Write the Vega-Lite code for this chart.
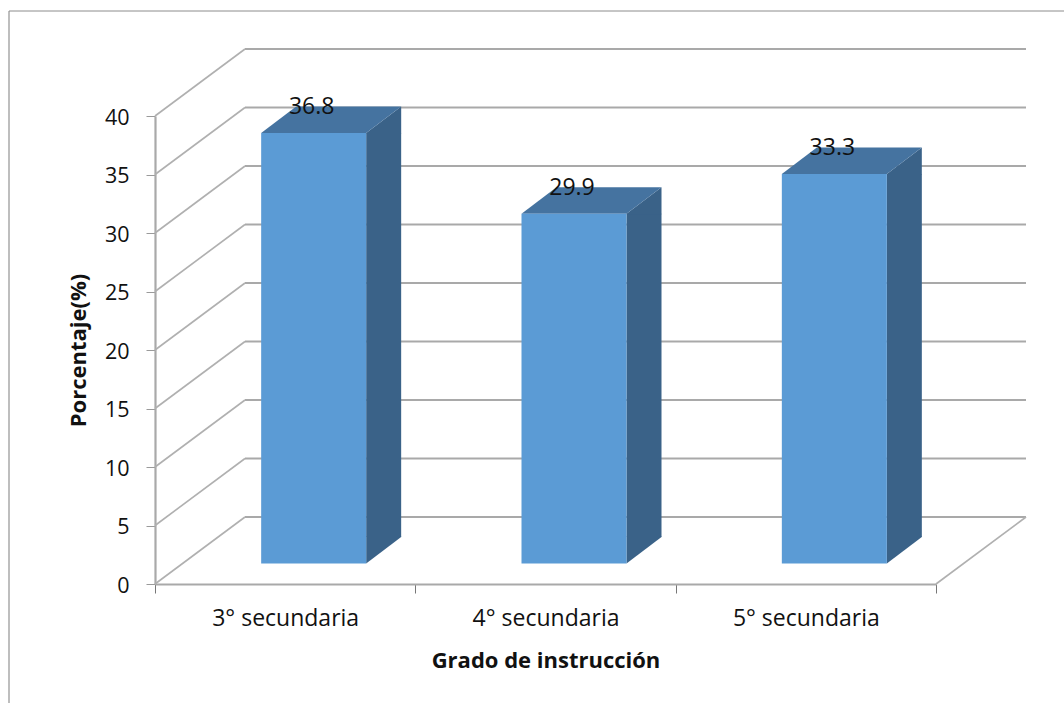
{
"$schema":"https://vega.github.io/schema/vega-lite/v6.json",
"width":781,"height":468,
"autosize":"none",
"padding":{"left":155,"top":116,"right":128,"bottom":119},
"background":"white",
"config":{"view":{"stroke":null},"font":"Open Sans"},
"datasets":{
"barras":[{"grado":"3° secundaria","porcentaje":36.8},{"grado":"4° secundaria","porcentaje":29.9},{"grado":"5° secundaria","porcentaje":33.3}],
"niveles":[{"v":0},{"v":5},{"v":10},{"v":15},{"v":20},{"v":25},{"v":30},{"v":35},{"v":40}],
"uno":[{"k":1}]
},
"layer":[
{"data":{"name":"uno"},"mark":{"type":"rule","stroke":"#a8a8a8","strokeWidth":1.5},"encoding":{"x":{"value":-146},"y":{"value":-105},"y2":{"value":600}}},
{"data":{"name":"uno"},"mark":{"type":"rule","stroke":"#8c8c8c","strokeWidth":1},"encoding":{"y":{"value":-105},"x":{"value":-146},"x2":{"value":920}}},
{"data":{"name":"niveles"},"mark":{"type":"rule","stroke":"#a9a9a9","strokeWidth":2.2,"xOffset":90,"x2Offset":90,"yOffset":-67},
"encoding":{"y":{"field":"v","type":"quantitative","scale":{"domain":[0,40]},
"axis":{"values":[0,5,10,15,20,25,30,35,40],"title":"Porcentaje(%)","grid":false,"domainColor":"#a9a9a9","domainWidth":2.2,"tickColor":"#9a9a9a","tickSize":9,"tickWidth":1,"labelFontSize":21.5,"labelColor":"#111111","labelPadding":17,"labelOffset":2,"titleFontSize":22,"titleFontWeight":"bold","titleColor":"#111111","titlePadding":14}},
"x":{"value":0},"x2":{"value":"width"}}},
{"data":{"name":"niveles"},"mark":{"type":"rule","stroke":"#b0b0b0","strokeWidth":1.6,"x2Offset":90,"y2Offset":-67},
"encoding":{"y":{"field":"v","type":"quantitative"},"y2":{"field":"v"},"x":{"value":0},"x2":{"value":0}}},
{"data":{"name":"uno"},"mark":{"type":"rule","stroke":"#b0b0b0","strokeWidth":1.6,"x2Offset":90,"y2Offset":-67},
"encoding":{"y":{"datum":0,"type":"quantitative"},"y2":{"datum":0},"x":{"value":"width"},"x2":{"value":"width"}}},
{"data":{"name":"barras"},"mark":{"type":"bar","width":35,"color":"#3A6288","xOffset":98.5,"yOffset":-20.5,"y2Offset":-47},
"encoding":{"x":{"field":"grado","type":"nominal","sort":null,"scale":{"paddingInner":0,"paddingOuter":0},
"axis":{"title":"Grado de instrucción","labelAngle":0,"tickBand":"extent","domainColor":"#a9a9a9","domainWidth":2.2,"tickColor":"#777777","tickSize":9,"tickWidth":1,"labelFontSize":23,"labelColor":"#111111","labelPadding":14,"titleFontSize":22,"titleFontWeight":"bold","titleColor":"#111111","titlePadding":20}},
"y":{"field":"porcentaje","type":"quantitative"},"y2":{"datum":0}}},
{"data":{"name":"barras"},"mark":{"type":"point","filled":true,"opacity":1,"size":4,"color":"#3A6288","shape":"M0,0L35,-26.5L35,0.5L0,0.5Z","xOffset":81,"yOffset":-20.5},
"encoding":{"x":{"field":"grado","type":"nominal","sort":null},"y":{"field":"porcentaje","type":"quantitative"}}},
{"data":{"name":"barras"},"mark":{"type":"point","filled":true,"opacity":1,"size":4,"color":"#3A6288","shape":"M0,0L35,-26.5L35,-27L0,-27Z","xOffset":81,"yOffset":-20.5},
"encoding":{"x":{"field":"grado","type":"nominal","sort":null},"y":{"datum":0,"type":"quantitative"}}},
{"data":{"name":"barras"},"mark":{"type":"point","filled":true,"opacity":1,"size":4,"color":"#4573A0","shape":"M0,0L35,-26.5L140,-26.5L105,0Z","xOffset":-24,"yOffset":-20.5},
"encoding":{"x":{"field":"grado","type":"nominal","sort":null},"y":{"field":"porcentaje","type":"quantitative"}}},
{"data":{"name":"barras"},"mark":{"type":"bar","width":105,"color":"#5B9BD5","xOffset":28.5,"yOffset":-20.5,"y2Offset":-20.5},
"encoding":{"x":{"field":"grado","type":"nominal","sort":null},"y":{"field":"porcentaje","type":"quantitative"},"y2":{"datum":0}}},
{"data":{"name":"barras"},"mark":{"type":"text","fontSize":23,"color":"#111111","dx":26.5,"dy":-46,"baseline":"middle"},
"encoding":{"x":{"field":"grado","type":"nominal","sort":null},"y":{"field":"porcentaje","type":"quantitative"},"text":{"field":"porcentaje","type":"quantitative","format":".1f"}}}
]
}
